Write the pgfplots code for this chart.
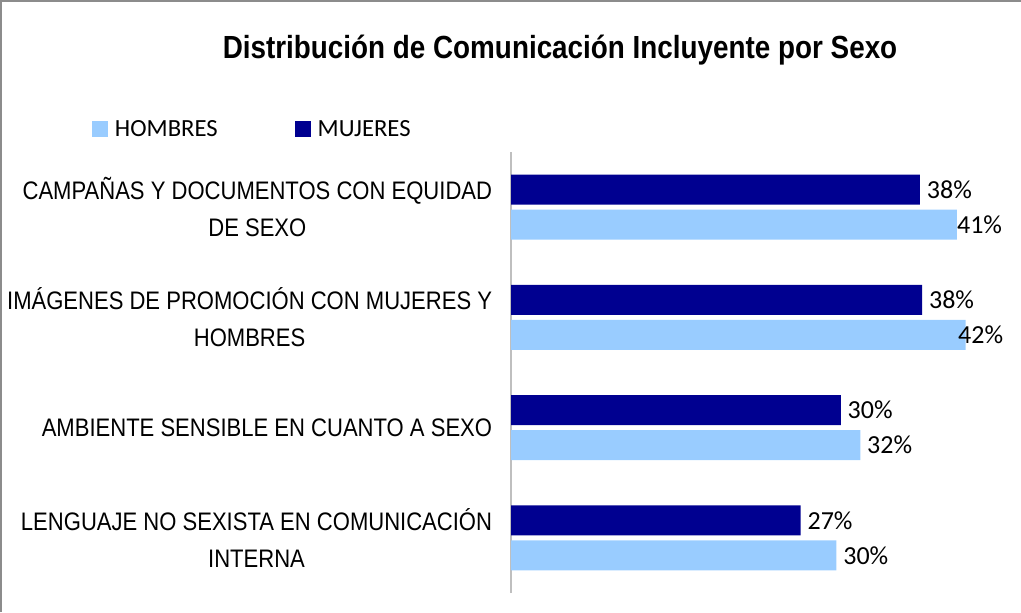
\documentclass[border=0pt]{standalone}
\usepackage{fontspec}
\usepackage{pgfplots}
\pgfplotsset{compat=1.18}
\newfontfamily\narrowfont[FakeStretch=0.87]{Liberation Sans}
\newfontfamily\calibri{Carlito}
\definecolor{hombres}{HTML}{99CCFF}
\definecolor{mujeres}{HTML}{000090}
\definecolor{framegray}{HTML}{8C8C8C}
\definecolor{axisgray}{HTML}{BFBFBF}
\begin{document}
\begin{tikzpicture}
\useasboundingbox (0,0) rectangle (765.75pt,459pt);
\draw[framegray, line width=1.5pt] (0.75pt,0pt) -- (0.75pt,458.25pt) -- (765.75pt,458.25pt);
\node[font={\narrowfont\bfseries\fontsize{24}{28}\selectfont}] at (420pt,421.5pt) {Distribución de Comunicación Incluyente por Sexo};
\begin{axis}[
  at={(383.25pt,14.25pt)}, anchor=south west,
  scale only axis, width=364.5pt, height=330.75pt,
  xbar, bar width=22.5pt,
  xmin=0, xmax=44.8, ymin=-0.5, ymax=3.5,
  axis x line=none, axis y line*=left,
  y axis line style={axisgray, line width=1.5pt, -},
  ytick={0,1,2,3}, major tick length=0pt,
  yticklabels={{LENGUAJE NO SEXISTA EN COMUNICACIÓN\\INTERNA},
               {AMBIENTE SENSIBLE EN CUANTO A SEXO},
               {IMÁGENES DE PROMOCIÓN CON MUJERES Y\\HOMBRES},
               {CAMPAÑAS Y DOCUMENTOS CON EQUIDAD\\DE SEXO}},
  yticklabel style={align=center, inner sep=0pt, xshift=-14pt,
     font={\narrowfont\fontsize{19}{27.75}\selectfont}},
  /pgf/number format/assume math mode=true,
  nodes near coords={\pgfmathprintnumber[fixed,precision=0]{\pgfplotspointmeta}\%},
  visualization depends on={value \coordindex \as \idx},
  nodes near coords style={anchor=west, inner sep=0pt, text=black,
     font={\calibri\fontsize{19.5}{22}\selectfont}},
  legend style={draw=none, fill=none, inner sep=0pt, at={(-0.862,1.052)}, anchor=west,
     font={\calibri\fontsize{18.5}{22}\selectfont}, legend columns=2,
     /tikz/every even column/.append style={column sep=53pt},
     nodes={inner xsep=5pt}},
  legend image code/.code={\fill[#1] (0pt,-6pt) rectangle (12pt,6pt);},
]
\addplot[fill=hombres, draw=none, bar shift=-13.125pt,
  every node near coord/.append style={xshift={ifthenelse(\idx==0,0,ifthenelse(\idx==1,-5.7,5))}}]
  coordinates {(41.1,3) (41.9,2) (32.2,1) (30.0,0)};
\addplot[fill=mujeres, draw=none, bar shift=13.125pt,
  every node near coord/.append style={xshift=5pt}]
  coordinates {(37.7,3) (37.9,2) (30.4,1) (26.7,0)};
\legend{HOMBRES, MUJERES}
\end{axis}
\end{tikzpicture}
\end{document}
